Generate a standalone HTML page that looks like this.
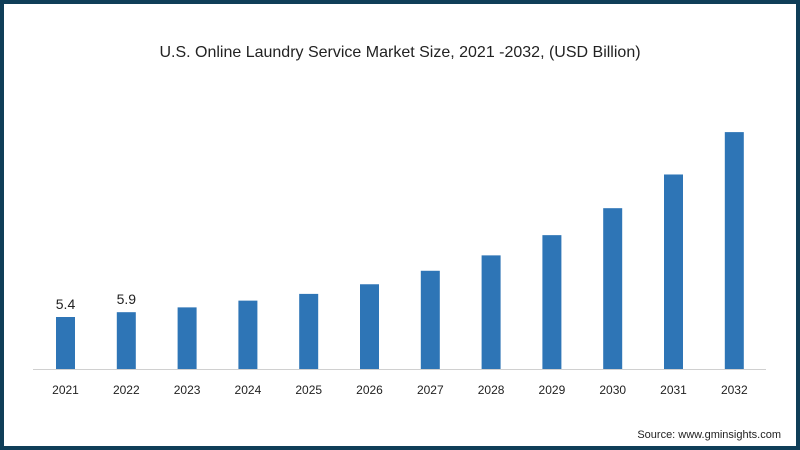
<!DOCTYPE html>
<html><head><meta charset="utf-8"><style>
body{margin:0;background:#fff}
#wrap{position:relative;width:800px;height:450px;box-sizing:border-box;border:4px solid #0f3e58;background:#fff;font-family:"Liberation Sans",sans-serif}
svg{position:absolute;left:-4px;top:-4px}
</style></head><body>
<div id="wrap">
<svg id="c" width="800" height="450"></svg>
</div>
<script>
const categories=["2021","2022","2023","2024","2025","2026","2027","2028","2029","2030","2031","2032"];
const values=[5.4,5.9,6.4,7.1,7.8,8.8,10.2,11.8,13.9,16.7,20.2,24.6];
const valueLabels=["5.4","5.9","","","","","","","","","",""];
const svg=document.getElementById('c');const NS='http://www.w3.org/2000/svg';
const base=369,scale=52/5.4,x0=65.5,step=60.8,bw=19;
const x=i=>x0+i*step, y=v=>base-v*scale;
function mk(t,a,txt){const e=document.createElementNS(NS,t);for(const k in a)e.setAttribute(k,a[k]);if(txt!=null)e.textContent=txt;svg.appendChild(e);return e;}
let t=mk('text',{x:400,y:57,'text-anchor':'middle','font-size':16,fill:'#222'},'U.S. Online Laundry Service Market Size, 2021 -2032, (USD Billion)');


let ax=mk('line',{x1:33,x2:766,y1:369.5,y2:369.5,stroke:'#d0d0d0','stroke-width':1});


categories.forEach((c,i)=>{
 const r=mk('rect',{x:x(i)-bw/2,y:y(values[i]),width:bw,height:base-y(values[i]),fill:'#2e75b6'});
 
 
 const l=mk('text',{x:x(i),y:394,'text-anchor':'middle','font-size':12,fill:'#222'},c);
 
 
 if(valueLabels[i]){const v=mk('text',{x:x(i),y:y(values[i])-8,'text-anchor':'middle','font-size':14,fill:'#222'},valueLabels[i]);
 
 }
});
let s=mk('text',{x:781,y:438,'text-anchor':'end','font-size':11,fill:'#222'},'Source: www.gminsights.com');


</script>
</body></html>
